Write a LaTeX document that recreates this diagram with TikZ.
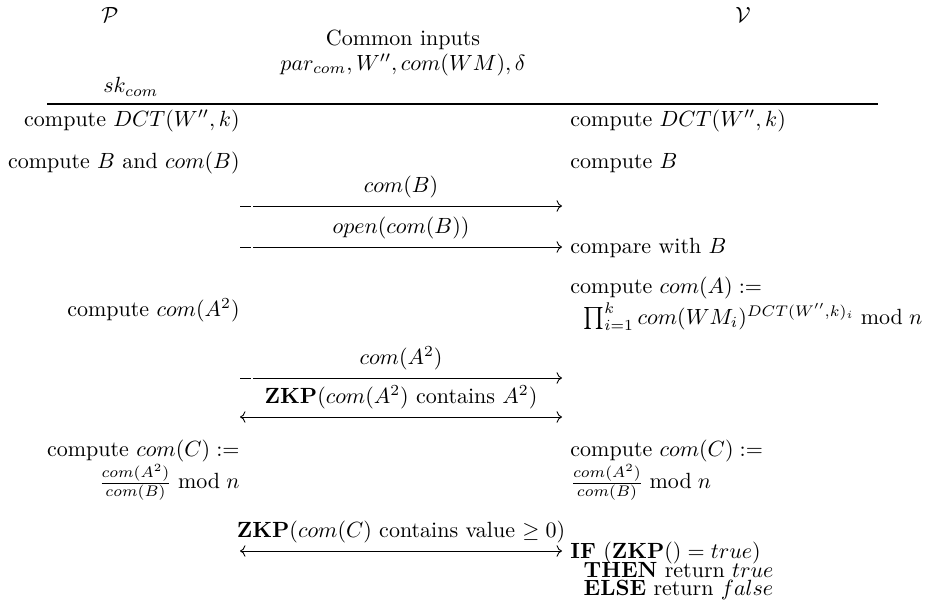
\documentclass[tikz,border=0pt]{standalone}
\usepackage{amsmath,amssymb}
\usepackage{tikz}
\usetikzlibrary{arrows.meta}

\begin{document}
\begin{tikzpicture}[x=0.4545pt,y=-0.4545pt,>=To,
  ptxt/.style={anchor=east,align=right,inner sep=0pt},
  vtxt/.style={anchor=west,align=left,inner sep=0pt},
  msg/.style={->,thin,dash pattern=on 5pt off 1pt on 400pt},
  zkp/.style={<->,thin}]
  \useasboundingbox (0,0) rectangle (930,601);
  \node (prover) at (110,15) {$\mathcal{P}$};
  \node (verifier) at (743,15) {$\mathcal{V}$};
  \node[align=center] (common) at (403,53)
    {Common inputs\\[-1pt]$par_{com}, W'', com(WM), \delta$};
  \node[anchor=west,inner sep=0pt] (psk) at (103,87) {$sk_{com}$};
  \coordinate (rulel) at (47,104);
  \coordinate (ruler) at (878,104);
  \draw[line width=0.8pt] (rulel) -- (ruler);

  \node[ptxt] (pdct) at (240,121) {compute $DCT(W'',k)$};
  \node[vtxt] (vdct) at (570,121) {compute $DCT(W'',k)$};
  \node[ptxt] (pb) at (240,163) {compute $B$ and $com(B)$};
  \node[vtxt] (vb) at (570,163) {compute $B$};

  \coordinate (m1s) at (240,206);
  \coordinate (m1e) at (562,206);
  \draw[msg] (m1s) -- node[above] {$com(B)$} (m1e);
  \coordinate (m2s) at (240,247);
  \coordinate (m2e) at (562,247);
  \draw[msg] (m2s) -- node[above] {$open(com(B))$} (m2e);
  \node[vtxt] (vcmp) at (570,248) {compare with $B$};

  \node[vtxt] (va) at (570,304)
    {compute $com(A) :=$\\[0.5pt]\hspace*{6pt}$\prod_{i=1}^{k} com(WM_i)^{DCT(W'',k)_i} \bmod n$};
  \node[ptxt] (pa) at (240,310) {compute $com(A^2)$};

  \coordinate (m3s) at (240,378);
  \coordinate (m3e) at (562,378);
  \draw[msg] (m3s) -- node[above] {$com(A^2)$} (m3e);
  \coordinate (z1s) at (240,417);
  \coordinate (z1e) at (562,417);
  \draw[zkp] (z1s) -- node[above] {$\mathbf{ZKP}(com(A^2)$ contains $A^2)$} (z1e);

  \node[ptxt] (pc) at (240,470)
    {compute $com(C) :=$\\$\frac{com(A^2)}{com(B)} \bmod n$};
  \node[vtxt] (vc) at (570,470)
    {compute $com(C) :=$\\$\frac{com(A^2)}{com(B)} \bmod n$};

  \coordinate (z2s) at (240,551);
  \coordinate (z2e) at (562,551);
  \draw[zkp] (z2s) -- node[above] {$\mathbf{ZKP}(com(C)$ contains value $\geq 0)$} (z2e);
  \node[vtxt] (vif) at (570,571)
    {\textbf{IF} $(\mathbf{ZKP}() = true)$\\[-3.5pt]\hspace*{6pt}\textbf{THEN} return $true$\\[-3.5pt]\hspace*{6pt}\textbf{ELSE} return $false$};
\end{tikzpicture}
\end{document}
